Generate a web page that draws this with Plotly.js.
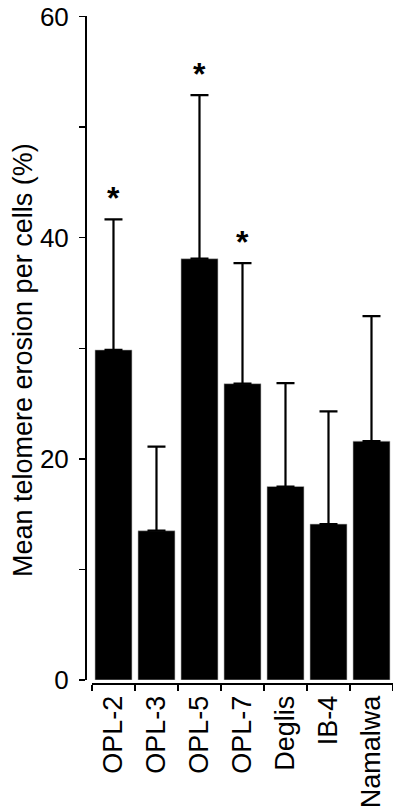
<!DOCTYPE html>
<html>
<head>
<meta charset="utf-8">
<script src="https://cdn.plot.ly/plotly-3.0.1.min.js"></script>
<style>
  html, body { margin: 0; padding: 0; background: #fff; }
  #chart { width: 393px; height: 809px; }
</style>
</head>
<body>
<div id="chart"></div>
<script>
// ---- data ----
const cellLines = ["OPL-2", "OPL-3", "OPL-5", "OPL-7", "Deglis", "IB-4", "Namalwa"];
const meanErosion = [29.85, 13.5, 38.1, 26.8, 17.5, 14.1, 21.6];
const errorUpper = [11.8, 7.6, 14.8, 10.9, 9.35, 10.2, 11.3];
const errorLower = [0, 0, 0, 0, 0, 0, 0];
const significant = [true, false, true, true, false, false, false];
const yMajorStep = 20;
const yMinorStep = 10;
const yTitle = "Mean telomere erosion per cells (%)";

const FONT = "Liberation Sans, Arial, Helvetica, sans-serif";

const trace = {
  type: "bar",
  x: cellLines,
  y: meanErosion,
  marker: { color: "#000000", line: { color: "#bbbbbb", width: 0.6 } },
  error_y: {
    type: "data",
    symmetric: false,
    array: errorUpper,
    arrayminus: errorLower,
    color: "#000000",
    thickness: 2.2,
    width: 9
  },
  hoverinfo: "x+y"
};

const annotations = [];
cellLines.forEach((c, i) => {
  if (significant[i]) {
    annotations.push({
      x: c, y: meanErosion[i] + errorUpper[i],
      xref: "x", yref: "y",
      text: "<b>*</b>",
      showarrow: false,
      yanchor: "bottom",
      yshift: 1,
      font: { family: FONT, size: 32, color: "#000" }
    });
  }
});
annotations.push({
  xref: "paper", yref: "paper",
  x: 0, y: 0.485,
  xshift: -63,
  text: yTitle,
  textangle: -90,
  showarrow: false,
  xanchor: "center", yanchor: "middle",
  font: { family: FONT, size: 27, color: "#000" }
});

const layout = {
  width: 393, height: 809,
  margin: { l: 86, r: 0, t: 16, b: 125, pad: 0 },
  paper_bgcolor: "#ffffff",
  plot_bgcolor: "#ffffff",
  showlegend: false,
  bargap: 0.14,
  font: { family: FONT, color: "#000" },
  xaxis: {
    type: "category",
    domain: [0.0195, 1],
    anchor: "free",
    position: 0,
    range: [-0.5, 6.5],
    showline: true,
    linecolor: "#000",
    linewidth: 2,
    ticks: "outside",
    tickson: "boundaries",
    ticklen: 6,
    tickwidth: 1.5,
    tickcolor: "#000",
    tickangle: -90,
    tickfont: { family: FONT, size: 27, color: "#000" },
    showgrid: false,
    zeroline: false,
    fixedrange: true
  },
  yaxis: {
    range: [0, 60.05],
    domain: [0.006, 1],
    anchor: "free",
    position: 0,
    showline: true,
    linecolor: "#000",
    linewidth: 2,
    tickmode: "linear",
    tick0: 0,
    dtick: yMajorStep,
    ticks: "outside",
    ticklen: 6,
    tickwidth: 1.5,
    tickcolor: "#000",
    ticklabelstandoff: 5,
    tickfont: { family: FONT, size: 26, color: "#000" },
    minor: {
      tickmode: "linear",
      tick0: 0,
      dtick: yMinorStep,
      ticks: "outside",
      ticklen: 6,
      tickwidth: 1.5,
      tickcolor: "#000",
      showgrid: false
    },
    showgrid: false,
    zeroline: false,
    fixedrange: true
  },
  annotations: annotations
};

Plotly.newPlot("chart", [trace], layout, { displayModeBar: false, staticPlot: true });
</script>
</body>
</html>
